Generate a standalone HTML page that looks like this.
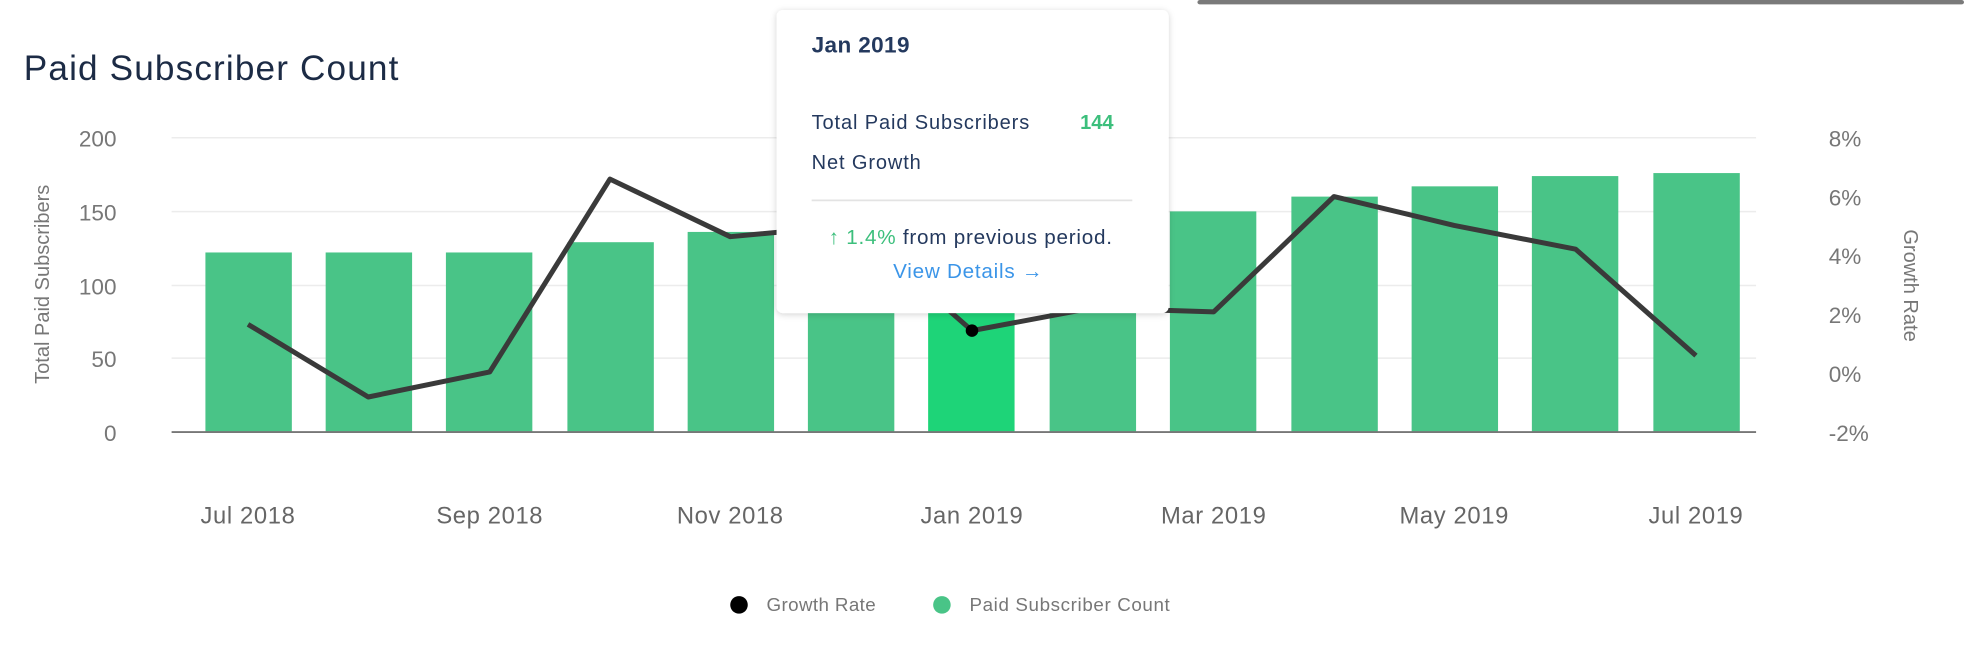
<!DOCTYPE html>
<html><head><meta charset="utf-8"><style>
html,body{margin:0;padding:0;background:#fff;}
svg{display:block;font-family:"Liberation Sans",sans-serif;}
</style></head><body>
<svg width="1964" height="670" viewBox="0 0 1568 535" preserveAspectRatio="none">
<rect x="956" y="0" width="612" height="3.5" rx="2" fill="#7a7a7a"/>
<text x="19" y="64" font-size="28" fill="#1c2b45" font-weight="500" letter-spacing="0.9" textLength="300" lengthAdjust="spacingAndGlyphs">Paid Subscriber Count</text>
<g stroke="#ececec" stroke-width="1.2">
<line x1="137" x2="1402" y1="110" y2="110"/><line x1="137" x2="1402" y1="169" y2="169"/>
<line x1="137" x2="1402" y1="228" y2="228"/><line x1="137" x2="1402" y1="286" y2="286"/>
</g>
<g font-size="18" fill="#777" text-anchor="end">
<text x="93" y="117">200</text><text x="93" y="176">150</text><text x="93" y="235">100</text><text x="93" y="293">50</text><text x="93" y="352">0</text>
</g>
<g font-size="18" fill="#777">
<text x="1460" y="117">8%</text><text x="1460" y="164">6%</text><text x="1460" y="211">4%</text><text x="1460" y="258">2%</text><text x="1460" y="305">0%</text><text x="1460" y="352">-2%</text>
</g>
<text transform="translate(39,227) rotate(-90)" text-anchor="middle" font-size="16" fill="#777">Total Paid Subscribers</text>
<text transform="translate(1520,228) rotate(90)" text-anchor="middle" font-size="16" fill="#777">Growth Rate</text>
<g fill="#49c487">
<rect x="164" y="201.6" width="69" height="143.4"/>
<rect x="260" y="201.6" width="69" height="143.4"/>
<rect x="356" y="201.6" width="69" height="143.4"/>
<rect x="453" y="193.4" width="69" height="151.6"/>
<rect x="549" y="185.2" width="69" height="159.8"/>
<rect x="645" y="178.2" width="69" height="166.8"/>
<rect x="741" y="175.8" width="69" height="169.2" fill="#1ed478"/>
<rect x="838" y="172.3" width="69" height="172.7"/>
<rect x="934" y="168.8" width="69" height="176.2"/>
<rect x="1031" y="157" width="69" height="188"/>
<rect x="1127" y="148.8" width="69" height="196.2"/>
<rect x="1223" y="140.6" width="69" height="204.4"/>
<rect x="1320" y="138.2" width="69" height="206.8"/>
</g>
<line x1="137" x2="1402" y1="345" y2="345" stroke="#777" stroke-width="1.5"/>
<polyline fill="none" stroke="#3a3a3a" stroke-width="4" stroke-linejoin="round" points="198,259 294,317 391,297 487,143 583,189 680,180 776,264 872,246 969,249 1065,157 1161,180 1258,199 1354,284"/>
<circle cx="776" cy="264" r="5" fill="#000"/>
<g font-size="19" fill="#666" text-anchor="middle" letter-spacing="0.5">
<text x="198" y="418">Jul 2018</text><text x="391" y="418">Sep 2018</text><text x="583" y="418">Nov 2018</text><text x="776" y="418">Jan 2019</text><text x="969" y="418">Mar 2019</text><text x="1161" y="418">May 2019</text><text x="1354" y="418">Jul 2019</text>
</g>
<circle cx="590" cy="483" r="7" fill="#000"/>
<text x="612" y="488" font-size="15" fill="#777" letter-spacing="0.3">Growth Rate</text>
<circle cx="752" cy="483" r="7" fill="#49c487"/>
<text x="774" y="488" font-size="15" fill="#777" letter-spacing="0.5">Paid Subscriber Count</text>
<defs><filter id="sh" x="-10%" y="-10%" width="120%" height="120%"><feDropShadow dx="0" dy="1" stdDeviation="2.5" flood-color="#000" flood-opacity="0.18"/></filter></defs>
<rect x="620" y="8" width="313" height="242" rx="5" fill="#fff" filter="url(#sh)"/>
<text x="648" y="42" font-size="18" font-weight="bold" fill="#24395e" letter-spacing="0.3">Jan 2019</text>
<text x="648" y="103" font-size="16" fill="#24395e" letter-spacing="0.7">Total Paid Subscribers</text>
<text x="889" y="103" font-size="16" font-weight="bold" fill="#3cbf7c" text-anchor="end">144</text>
<text x="648" y="135" font-size="16" fill="#24395e" letter-spacing="0.7">Net Growth</text>
<line x1="648" x2="904" y1="160" y2="160" stroke="#e3e3e3" stroke-width="1.3"/>
<text x="775" y="195" font-size="16.5" text-anchor="middle" fill="#24395e" font-weight="500" letter-spacing="0.6"><tspan fill="#3cbf7c" font-weight="bold">↑</tspan><tspan fill="#3cbf7c"> 1.4% </tspan>from previous period.</text>
<text x="773" y="222" font-size="16.5" text-anchor="middle" fill="#3b95e8" letter-spacing="0.6">View Details <tspan font-weight="bold">→</tspan></text>
</svg>
</body></html>
